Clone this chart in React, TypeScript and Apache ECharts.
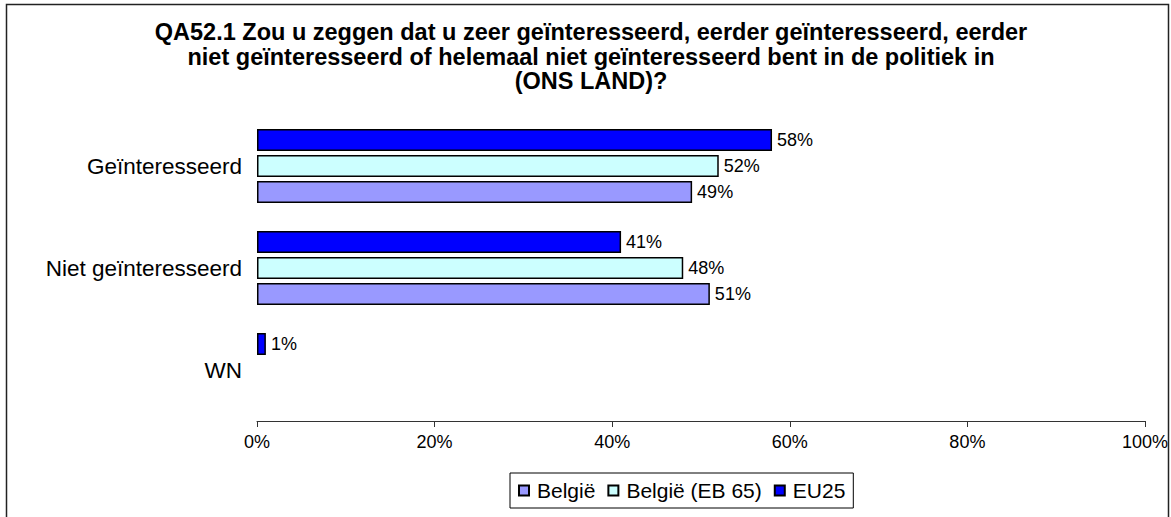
import React, { useEffect, useRef } from "react";
import * as echarts from "echarts";

const categories = ["Geïnteresseerd", "Niet geïnteresseerd", "WN"];
const seriesNames = ["EU25", "België (EB 65)", "België"];
const eu25 = [58, 41, 1];
const belgieEB65: (number | null)[] = [52, 48, null];
const belgie: (number | null)[] = [49, 51, null];
const legendOrder = ["België", "België (EB 65)", "EU25"];
const xTicks = [0, 20, 40, 60, 80, 100];
const colors = ["#0000FF", "#CCFFFF", "#9999FF"];

const titleText =
  "QA52.1 Zou u zeggen dat u zeer geïnteresseerd, eerder geïnteresseerd, eerder\nniet geïnteresseerd of helemaal niet geïnteresseerd bent in de politiek in\n(ONS LAND)?";

export default function App() {
  const ref = useRef<HTMLDivElement>(null);
  useEffect(() => {
    if (!ref.current) return;
    const chart = echarts.init(ref.current, null, { renderer: "svg" });
    const font = "'Liberation Sans', Arial, sans-serif";
    const values = [eu25, belgieEB65, belgie];
    chart.setOption({
      animation: false,
      backgroundColor: "#fff",
      textStyle: { fontFamily: font, color: "#000" },
      title: {
        text: titleText,
        left: 586,
        top: 15,
        textAlign: "center",
        textStyle: {
          fontFamily: font,
          fontSize: 23.5,
          fontWeight: "bold",
          lineHeight: 24.5,
          color: "#000",
        },
      },
      graphic: [
        {
          type: "rect",
          shape: { x: 6.5, y: 4.5, width: 1162, height: 600 },
          style: { fill: "none", stroke: "#222", lineWidth: 1.5 },
          silent: true,
        },
      ],
      legend: {
        data: legendOrder,
        left: 510,
        top: 473,
        orient: "horizontal",
        icon: "rect",
        itemWidth: 10,
        itemHeight: 10,
        itemGap: 12,
        padding: [7, 8, 7, 8],
        borderColor: "#000",
        borderWidth: 1,
        textStyle: { fontFamily: font, fontSize: 21, color: "#000", padding: [0, 0, 0, 3] },
      },
      grid: { left: 257, right: 23, top: 115, bottom: 96, containLabel: false },
      xAxis: {
        type: "value",
        min: 0,
        max: 100,
        interval: 20,
        axisLine: { show: true, lineStyle: { color: "#333", width: 1 } },
        axisTick: { show: true, length: 6, lineStyle: { color: "#333" } },
        splitLine: { show: false },
        axisLabel: {
          formatter: (v: number) => (xTicks.includes(v) ? v + "%" : ""),
          fontFamily: font,
          fontSize: 18,
          color: "#000",
          margin: 12,
        },
      },
      yAxis: {
        type: "category",
        data: categories,
        inverse: true,
        axisLine: { show: false },
        axisTick: { show: false },
        axisLabel: { fontFamily: font, fontSize: 22.5, color: "#000", margin: 15 },
      },
      series: seriesNames.map((name, i) => ({
        name,
        type: "bar",
        data: values[i],
        barWidth: 22,
        barGap: "18%",
        itemStyle: { color: colors[i], borderColor: "#000", borderWidth: 1.5 },
        label: {
          show: true,
          position: "right",
          distance: 5,
          formatter: "{c}%",
          fontFamily: font,
          fontSize: 18,
          color: "#000",
        },
      })),
    });
    return () => chart.dispose();
  }, []);
  return (
    <div
      ref={ref}
      style={{ position: "fixed", left: 0, top: 0, width: 1171, height: 517 }}
    />
  );
}
